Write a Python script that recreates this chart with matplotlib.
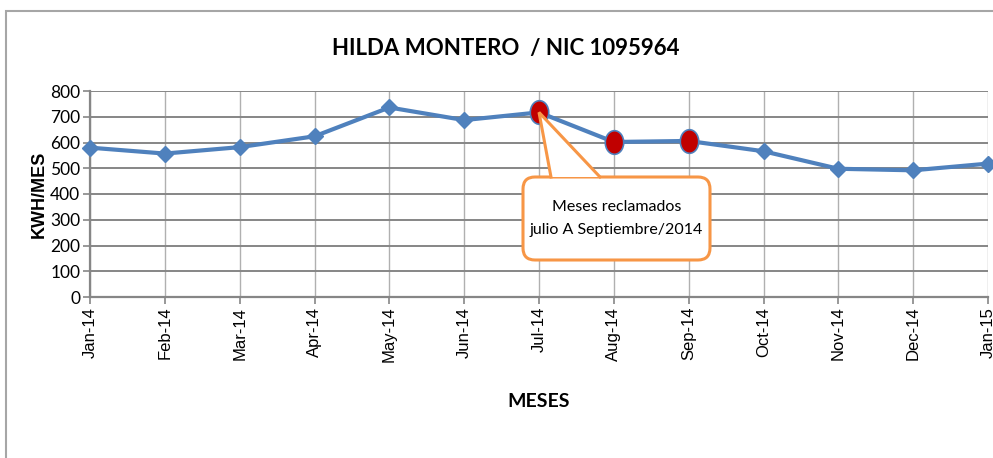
import matplotlib
matplotlib.use("Agg")
import matplotlib.pyplot as plt
from matplotlib.patches import FancyBboxPatch, Polygon, Rectangle
from matplotlib.path import Path
from matplotlib.transforms import Affine2D

# data
meses = ["Jan-14", "Feb-14", "Mar-14", "Apr-14", "May-14", "Jun-14", "Jul-14",
         "Aug-14", "Sep-14", "Oct-14", "Nov-14", "Dec-14", "Jan-15"]
kwh = [580, 557, 582, 624, 736, 687, 717, 602, 606, 566, 498, 492, 518]
reclamados = [6, 7, 8]  # Jul, Aug, Sep

NARROW = ["Lato", "DejaVu Sans"]
ARIAL = ["Liberation Sans", "DejaVu Sans"]
BLUE = "#4F81BD"
ORANGE = "#F79646"

fig = plt.figure(figsize=(9.93, 4.58), dpi=100)
ax = fig.add_axes([90 / 993, 1 - 297 / 458, 898 / 993, 206 / 458])

x = list(range(len(meses)))
ax.plot(x, kwh, color=BLUE, lw=3, marker="D", ms=8, mfc=BLUE, mec=BLUE,
        zorder=3, clip_on=False)

ell = Path.unit_circle().transformed(Affine2D().scale(0.78, 1.0))
ax.plot([x[i] for i in reclamados], [kwh[i] for i in reclamados], ls="none",
        marker=ell, ms=17, mfc="#C00000", mec=BLUE, mew=1.2, zorder=4)

ax.set_xlim(0, len(meses) - 1)
ax.set_ylim(0, 800)
ax.set_yticks(range(0, 801, 100))
ax.set_xticks(x)
ax.set_xticklabels(meses, rotation=90, family=ARIAL, fontsize=12)
for lab in ax.get_yticklabels():
    lab.set_family(NARROW)
    lab.set_fontsize(12.5)

ax.yaxis.grid(True, color="#868686", lw=1.4)
ax.xaxis.grid(True, color="#B0B0B0", lw=1)
ax.set_axisbelow(True)
for s in ["top", "right"]:
    ax.spines[s].set_visible(False)
for s in ["left", "bottom"]:
    ax.spines[s].set_color("#868686")
    ax.spines[s].set_linewidth(1.6)
ax.tick_params(axis="both", color="#868686", length=5, width=1.2, pad=2)

ax.set_ylabel("KWH/MES", family=ARIAL, fontweight="bold", fontsize=13, labelpad=2)
ax.set_xlabel("MESES", family=NARROW, fontweight="bold", fontsize=14, labelpad=22)

fig.text(506 / 993, 1 - 48 / 458, "HILDA MONTERO  / NIC 1095964", family=NARROW,
         fontweight="bold", fontsize=16, ha="center", va="center")

# callout box
bx0, bx1 = (523 - 90) / 898, (710 - 90) / 898
by0, by1 = (297 - 260) / 206, (297 - 177) / 206
box = FancyBboxPatch((bx0, by0), bx1 - bx0, by1 - by0,
                     boxstyle="round,pad=0,rounding_size=0.0134",
                     transform=ax.transAxes, fc="white", ec=ORANGE, lw=2.2,
                     zorder=6, clip_on=False, mutation_aspect=898 / 206)
ax.add_patch(box)
tip = ax.transAxes.inverted().transform(ax.transData.transform((x[6], kwh[6])))
p0 = ((551 - 90) / 898, by1)
p1 = ((600 - 90) / 898, by1)
ax.add_patch(Polygon([p0, tip, p1], closed=True, transform=ax.transAxes,
                     fc="white", ec="none", zorder=7, clip_on=False))
ax.plot([p0[0], tip[0], p1[0]], [p0[1], tip[1], p1[1]], color=ORANGE, lw=2.2,
        transform=ax.transAxes, zorder=7, clip_on=False, solid_joinstyle="miter")
ax.text((bx0 + bx1) / 2, (by0 + by1) / 2, "Meses reclamados\njulio A Septiembre/2014",
        transform=ax.transAxes, ha="center", va="center", family=NARROW,
        fontsize=11.5, linespacing=1.8, zorder=8)

# outer chart frame
fig.patches.append(Rectangle((6 / 993, -0.1), 1.2, 1 - 10.5 / 458 + 0.1,
                             transform=fig.transFigure, fill=False,
                             ec="#A6A6A6", lw=1.5))

fig.savefig("out.png", dpi=100)
